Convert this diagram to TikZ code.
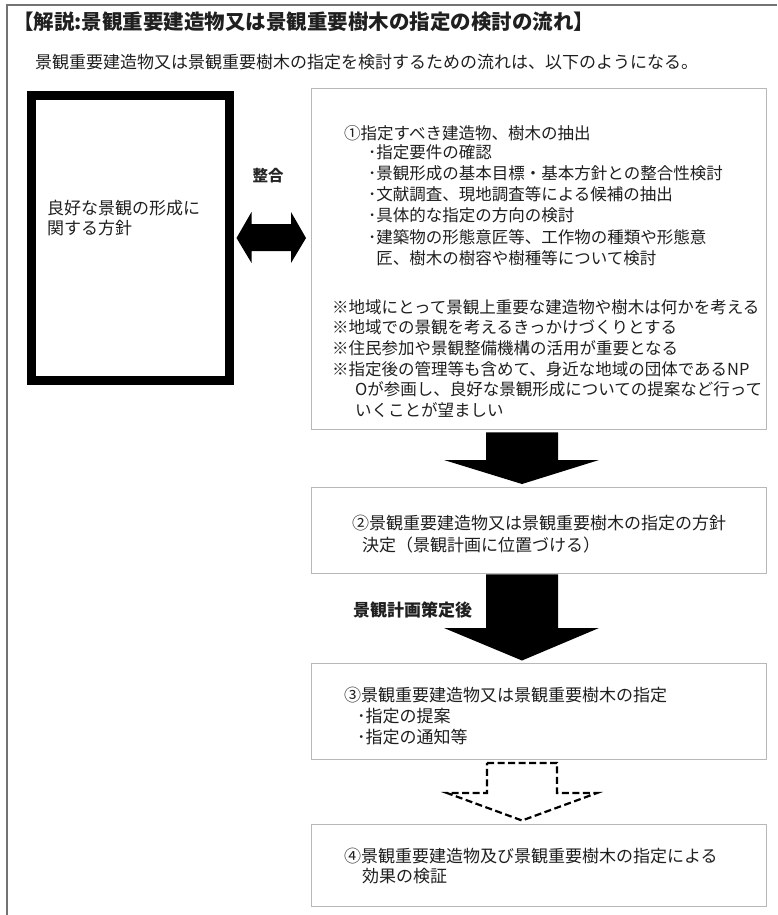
\documentclass[tikz,border=0pt]{standalone}
\usepackage{fontspec}
\setmainfont{Noto Sans CJK JP}
\usetikzlibrary{calc}
\newcommand\fsz[2]{\fontsize{#1pt}{#2pt}\selectfont}
\tikzset{
  graybox/.style={draw=black!28, line width=1.4pt, fill=white, anchor=north west, inner sep=0pt, minimum width=455pt},
  policybox/.style={draw=black, line width=9pt, anchor=north west, inner sep=0pt, minimum width=198pt, minimum height=284pt},
  txt/.style={anchor=base west, align=left, inner sep=0pt, text=black!88},
  blockarr/.style={fill=black},
  dasharr/.style={draw=black, line width=2.2pt, dash pattern=on 7pt off 3.5pt, fill=white, line join=miter},
  framel/.style={draw=black!55, line width=1.2pt},
}
\begin{document}
\begin{tikzpicture}[x=1pt,y=-1pt]
\useasboundingbox (0,0) rectangle (777,915);
% outer frame (top and left)
\coordinate (ftr) at (777,5);
\coordinate (ftl) at (7,5);
\coordinate (fbl) at (7,915);
\draw[framel] (ftr) -- (ftl) -- (fbl);

% title and intro (base anchor of a multi-line node = last line)
\node[txt, font=\fsz{20.5}{22}\bfseries] (title) at (13,29.8) {【解説:景観重要建造物又は景観重要樹木の指定の検討の流れ】};
\node[txt, font=\fsz{17}{20}] (intro) at (35,68.5) {景観重要建造物又は景観重要樹木の指定を検討するための流れは、以下のようになる。};

% left policy box
\node[policybox] (policy) at (26.5,91.5) {};
\node[txt, font=\fsz{17}{20}] (policytxt) at (47,234.5) {良好な景観の形成に\\関する方針};

% right boxes
\node[graybox, minimum height=341pt] (b1) at (311,88) {};
\node[graybox, minimum height=86pt] (b2) at (311,487) {};
\node[graybox, minimum height=96pt] (b3) at (311,663) {};
\node[graybox, minimum height=82pt] (b4) at (311,824) {};

% double arrow between policy box and box 1
\coordinate (lt) at ($(policy.east)+(3,0)$);
\coordinate (rt) at ($(b1.west |- lt)+(-5,0)$);
\fill[blockarr] (lt) -- ++(15,-26) -- ++(0,12) -- ($(rt)+(-15,-14)$) -- ++(0,-12) -- (rt)
  -- ++(-15,25) -- ++(0,-12) -- ($(lt)+(15,13)$) -- ++(0,12) -- cycle;
\node[font=\fsz{15.5}{18}\bfseries, text=black!85] (seigo) at (268,176) {整合};

% box 1 text
\node[txt, font=\fsz{16.5}{20}] (h1) at (344,139.3) {①指定すべき建造物、樹木の抽出};
\node[txt, font=\fsz{16.5}{21.2}] (l1) at (368,264.3) {･指定要件の確認\\
･景観形成の基本目標・基本方針との整合性検討\\
･文献調査、現地調査等による候補の抽出\\
･具体的な指定の方向の検討\\
･建築物の形態意匠等、工作物の種類や形態意\\
\hspace{8.25pt}匠、樹木の樹容や樹種等について検討};
\node[txt, font=\fsz{16.5}{20.6}] (n1) at (332,416.3) {※地域にとって景観上重要な建造物や樹木は何かを考える\\
※地域での景観を考えるきっかけづくりとする\\
※住民参加や景観整備機構の活用が重要となる\\
※指定後の管理等も含めて、身近な地域の団体であるNP\\
\hspace{23pt}Oが参画し、良好な景観形成についての提案など行って\\
\hspace{23pt}いくことが望ましい};

% box 2 text
\node[txt, font=\fsz{17}{22}] (h2) at (352,551.5) {②景観重要建造物又は景観重要樹木の指定の方針\\
\hspace{10pt}決定（景観計画に位置づける）};

% box 3 text
\node[txt, font=\fsz{17}{21}] (h3) at (344,743.5) {③景観重要建造物又は景観重要樹木の指定\\
\hspace{13pt}･指定の提案\\
\hspace{13pt}･指定の通知等};

% box 4 text
\node[txt, font=\fsz{17}{20}] (h4) at (344,882.5) {④景観重要建造物及び景観重要樹木の指定による\\
\hspace{18pt}効果の検証};

% arrows between boxes
\coordinate (ax) at (522,0);
\fill[blockarr] ($(ax|-b1.south)+(-36,2)$) -- ($(ax|-b1.south)+(36,2)$) -- ($(ax|-b2.north)+(36,-27)$)
  -- ($(ax|-b2.north)+(77,-27)$) -- ($(ax|-b2.north)+(0,-3)$) -- ($(ax|-b2.north)+(-78,-27)$)
  -- ($(ax|-b2.north)+(-36,-27)$) -- cycle;
\fill[blockarr] ($(ax|-b2.south)+(-36,0)$) -- ($(ax|-b2.south)+(36,0)$) -- ($(ax|-b3.north)+(36,-35)$)
  -- ($(ax|-b3.north)+(77,-35)$) -- ($(ax|-b3.north)+(0,-2.5)$) -- ($(ax|-b3.north)+(-78,-35)$)
  -- ($(ax|-b3.north)+(-36,-35)$) -- cycle;
\node[txt, font=\fsz{17}{20}\bfseries] (after) at (353,616.5) {景観計画策定後};
\draw[dasharr] ($(ax|-b3.south)+(-35,2.5)$) -- ($(ax|-b3.south)+(35,2.5)$) -- ($(ax|-b4.north)+(35,-31)$)
  -- ($(ax|-b4.north)+(75,-31)$) -- ($(ax|-b4.north)+(0,-3.5)$) -- ($(ax|-b4.north)+(-75,-31)$)
  -- ($(ax|-b4.north)+(-35,-31)$) -- cycle;
\end{tikzpicture}
\end{document}
